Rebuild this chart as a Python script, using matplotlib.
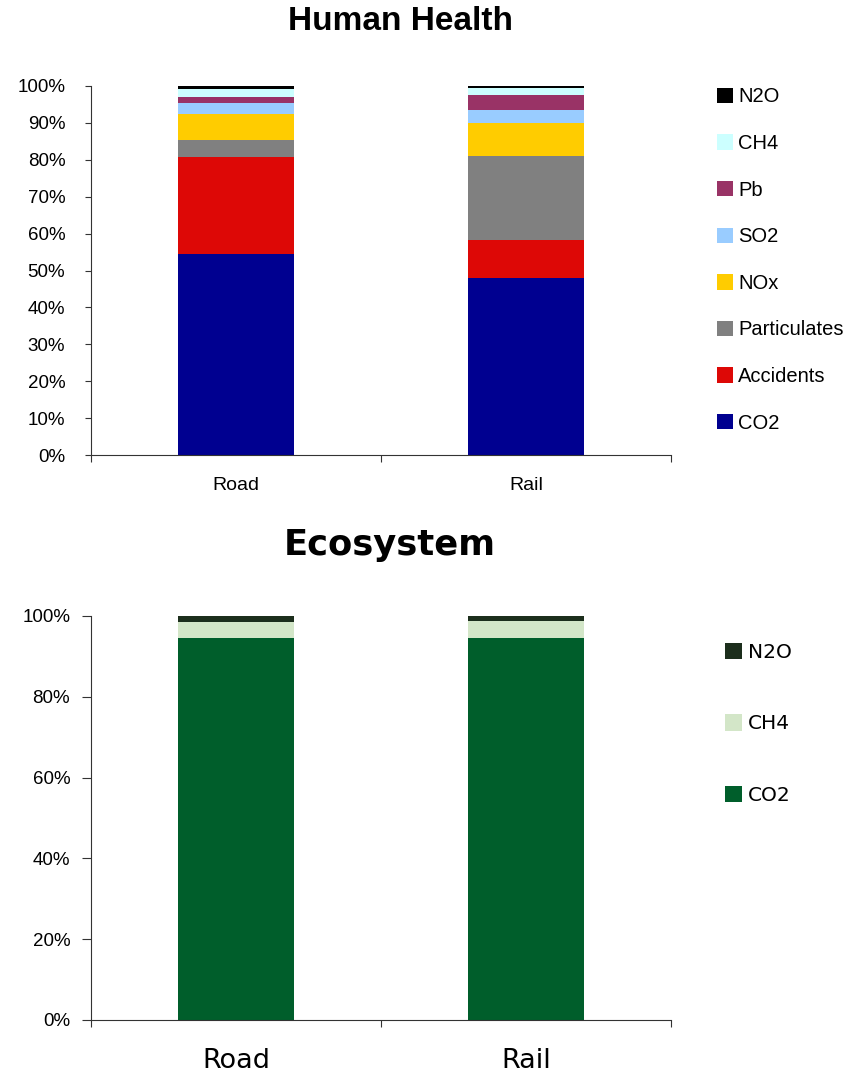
import numpy as np
import matplotlib
matplotlib.use('Agg')
from matplotlib import pyplot as plt
from matplotlib.ticker import PercentFormatter

# data (shares of total, %)
modes = ['Road', 'Rail']

hh_labels = ['CO2', 'Accidents', 'Particulates', 'NOx', 'SO2', 'Pb', 'CH4', 'N2O']
hh_colors = ['#000090', '#DD0806', '#808080', '#FFCC00', '#99CCFF', '#993366', '#CCFFFF', '#000000']
hh_road = [54.5, 26.3, 4.7, 6.9, 3.1, 1.5, 2.3, 0.7]
hh_rail = [48.0, 10.3, 22.7, 8.9, 3.5, 4.1, 2.0, 0.5]

eco_labels = ['CO2', 'CH4', 'N2O']
eco_colors = ['#005E2B', '#D3E6C8', '#1C2E1C']
eco_road = [94.6, 3.9, 1.5]
eco_rail = [94.6, 4.2, 1.2]

W, H = 858, 1072
fig = plt.figure(figsize=(W / 100, H / 100), dpi=100)

helv = 'Liberation Sans'
verd = 'DejaVu Sans'


def stacked(ax, labels, colors, road, rail):
    vals = np.array([road, rail]).T / 100.0
    x = np.arange(len(modes))
    bottom = np.zeros(len(modes))
    handles = []
    for lab, col, v in zip(labels, colors, vals):
        b = ax.bar(x, v, 0.4, bottom=bottom, color=col, label=lab, linewidth=0)
        handles.append(b)
        bottom += v
    ax.set_xlim(-0.5, 1.5)
    ax.set_ylim(0, 1)
    ax.spines['top'].set_visible(False)
    ax.spines['right'].set_visible(False)
    for s in ['left', 'bottom']:
        ax.spines[s].set_color('#333333')
        ax.spines[s].set_linewidth(0.8)
    ax.set_xticks([-0.5, 0.5, 1.5])
    ax.set_xticklabels([])
    ax.set_xticks(x, minor=True)
    ax.tick_params(axis='x', which='major', direction='out', length=5, color='#333333')
    ax.tick_params(axis='x', which='minor', length=0)
    ax.tick_params(axis='y', direction='out', length=4.5, color='#333333')
    ax.yaxis.set_major_formatter(PercentFormatter(1.0, decimals=0))
    return handles


# Human Health
ax1 = fig.add_axes([91 / W, 1 - 455 / H, 580 / W, 369 / H])
h1 = stacked(ax1, hh_labels, hh_colors, hh_road, hh_rail)
ax1.set_yticks(np.arange(0, 1.01, 0.1))
ax1.set_xticklabels(modes, minor=True, fontsize=14, family=helv)
ax1.tick_params(axis='x', which='minor', pad=16)
ax1.tick_params(axis='y', pad=14)
for t in ax1.get_yticklabels():
    t.set_fontsize(13.5)
    t.set_family(helv)
fig.text(400 / W, 1 - 22 / H, 'Human Health', ha='center', va='center',
         fontsize=24, fontweight='bold', family=helv)
fig.legend(h1[::-1], hh_labels[::-1], loc='upper left',
           bbox_to_anchor=(717 / W, 1 - 87.5 / H), frameon=False,
           prop={'family': helv, 'size': 14.5}, labelspacing=1.37,
           handlelength=0.8, handleheight=0.8, handletextpad=0.25,
           borderaxespad=0, borderpad=0)

# Ecosystem
ax2 = fig.add_axes([91 / W, 1 - 1020 / H, 580 / W, 404 / H])
h2 = stacked(ax2, eco_labels, eco_colors, eco_road, eco_rail)
ax2.set_yticks(np.arange(0, 1.01, 0.2))
ax2.set_xticklabels(modes, minor=True, fontsize=19.5, family=verd)
ax2.tick_params(axis='x', which='minor', pad=20)
ax2.tick_params(axis='y', length=6.5, pad=8.5)
for t in ax2.get_yticklabels():
    t.set_fontsize(13.5)
    t.set_family(helv)
fig.text(390 / W, 1 - 545 / H, 'Ecosystem', ha='center', va='center',
         fontsize=25.5, fontweight='bold', family=verd)
fig.legend(h2[::-1], eco_labels[::-1], loc='upper left',
           bbox_to_anchor=(725 / W, 1 - 642.5 / H), frameon=False,
           prop={'family': verd, 'size': 14.5}, labelspacing=2.63,
           handlelength=0.85, handleheight=0.85, handletextpad=0.3,
           borderaxespad=0, borderpad=0)

plt.savefig('out.png', dpi=100)
